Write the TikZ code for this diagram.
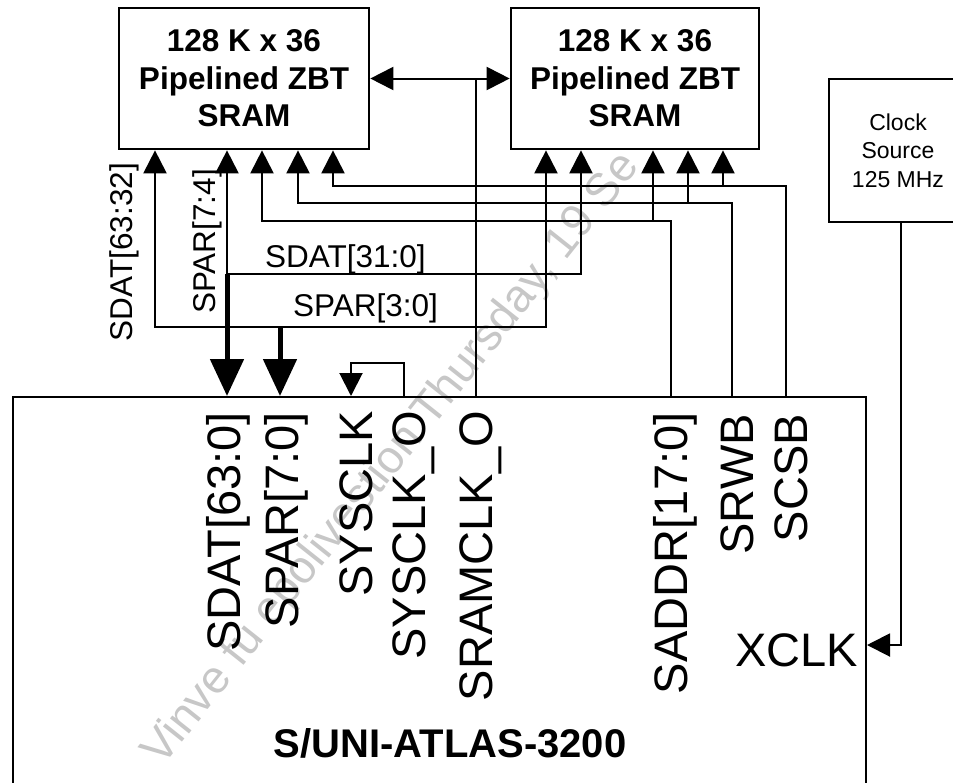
\documentclass[tikz,border=0pt]{standalone}
\usepackage{fontspec}
\setmainfont{Liberation Sans}
\usetikzlibrary{arrows.meta}
\begin{document}
\begin{tikzpicture}[x=1pt,y=-1pt,
  box/.style={draw,line width=2.7pt,fill=white,inner sep=0pt,align=center},
  ttl/.style={font=\bfseries\fontsize{31.5}{37.5}\selectfont},
  pin/.style={font=\fontsize{47}{50}\selectfont,rotate=90,anchor=base east,inner sep=0pt},
  sig/.style={font=\fontsize{31.5}{36}\selectfont,inner sep=0pt},
  wire/.style={line width=2pt},
  bus/.style={line width=5pt},
  >={Triangle[length=23pt,width=23pt]},
  big/.style={-{Triangle[length=37pt,width=33pt]}}
]
\useasboundingbox (0,0) rectangle (953,782);
\clip (0,0) rectangle (953,782);
% watermark
\node[rotate=51.5,anchor=base west,inner sep=0pt,text=black!22,font=\fontsize{46}{46}\selectfont] (wm) at (162,768) {Vinve fu epolivestion Thursday, 19 Se};
% columns and rows
\coordinate (cA1) at (155,0);
\coordinate (cA2) at (227,0);
\coordinate (cA3) at (262,0);
\coordinate (cA4) at (298,0);
\coordinate (cA5) at (333,0);
\coordinate (cB1) at (546,0);
\coordinate (cB2) at (581,0);
\coordinate (cB3) at (653,0);
\coordinate (cB4) at (688,0);
\coordinate (cB5) at (723,0);
\coordinate (cD2) at (280,0);
\coordinate (cS1) at (351,0);
\coordinate (cS2) at (404,0);
\coordinate (cR) at (476,0);
\coordinate (cQ1) at (671,0);
\coordinate (cQ2) at (732,0);
\coordinate (cQ3) at (786,0);
\coordinate (cK) at (901,0);
\coordinate (r1) at (0,186);
\coordinate (r2) at (0,203);
\coordinate (r3) at (0,221);
\coordinate (r4) at (0,274);
\coordinate (r5) at (0,327);
\coordinate (rS) at (0,363);
\coordinate (rX) at (0,645);
% boxes
\node[box,ttl,minimum width=250pt,minimum height=141pt] (sramA) at (244,78.5) {128 K x 36\\Pipelined ZBT\\SRAM};
\node[box,ttl,minimum width=248pt,minimum height=141pt] (sramB) at (635,78.5) {128 K x 36\\Pipelined ZBT\\SRAM};
\node[box,font=\fontsize{23}{28.5}\selectfont,minimum width=138pt,minimum height=143pt] (clk) at (898,150.5) {Clock\\Source\\125 MHz};
\node[draw,line width=2pt,minimum width=853pt,minimum height=420pt,inner sep=0pt] (atlas) at (439.5,607) {};
% wires
\draw[wire,<->] (sramA.south -| cA1) -- (cA1 |- r5) -- (cB1 |- r5) -- (sramB.south -| cB1);
\draw[wire,<->] (sramA.south -| cA2) -- (cA2 |- r4) -- (cB2 |- r4) -- (sramB.south -| cB2);
\draw[wire,<-] (sramA.south -| cA3) -- (cA3 |- r3) -- (cQ1 |- r3) -- (atlas.north -| cQ1);
\draw[wire,->] (cB3 |- r3) -- (sramB.south -| cB3);
\draw[wire,<-] (sramA.south -| cA4) -- (cA4 |- r2) -- (cQ2 |- r2) -- (atlas.north -| cQ2);
\draw[wire,->] (cB4 |- r2) -- (sramB.south -| cB4);
\draw[wire,<-] (sramA.south -| cA5) -- (cA5 |- r1) -- (cQ3 |- r1) -- (atlas.north -| cQ3);
\draw[wire,->] (cB5 |- r1) -- (sramB.south -| cB5);
\draw[wire,<->] (sramA.east) -- (sramB.west);
\draw[wire] (cR |- sramA.east) -- (atlas.north -| cR);
\draw[wire,->] (atlas.north -| cS2) -- (cS2 |- rS) -- (cS1 |- rS) -- (atlas.north -| cS1);
\draw[wire,->] (clk.south -| cK) -- (cK |- rX) -- (atlas.east |- rX);
\draw[bus,big] (cA2 |- r4) -- (atlas.north -| cA2);
\draw[bus,big] (cD2 |- r5) -- (atlas.north -| cD2);
% signal labels
\node[sig,rotate=90,anchor=base east] (lA1) at (132,163) {SDAT[63:32]};
\node[sig,rotate=90,anchor=base east] (lA2) at (215,169) {SPAR[7:4]};
\node[sig,anchor=base west] (lB1) at (265,267) {SDAT[31:0]};
\node[sig,anchor=base west] (lB2) at (293,316) {SPAR[3:0]};
% pin labels
\node[pin] (p1) at (240,412) {SDAT[63:0]};
\node[pin] (p2) at (298,412) {SPAR[7:0]};
\node[pin] (p3) at (372,411) {SYSCLK};
\node[pin] (p4) at (425,411) {SYSCLK\_O};
\node[pin] (p5) at (492,411) {SRAMCLK\_O};
\node[pin] (p6) at (687,412) {SADDR[17:0]};
\node[pin] (p7) at (753,414) {SRWB};
\node[pin] (p8) at (807,414) {SCSB};
\node[font=\fontsize{47}{50}\selectfont,anchor=base east,inner sep=0pt] (lX) at (858,666) {XCLK};
\node[font=\bfseries\fontsize{40}{44}\selectfont,anchor=base,inner sep=0pt] (name) at (450,757) {S/UNI-ATLAS-3200};
\end{tikzpicture}
\end{document}
